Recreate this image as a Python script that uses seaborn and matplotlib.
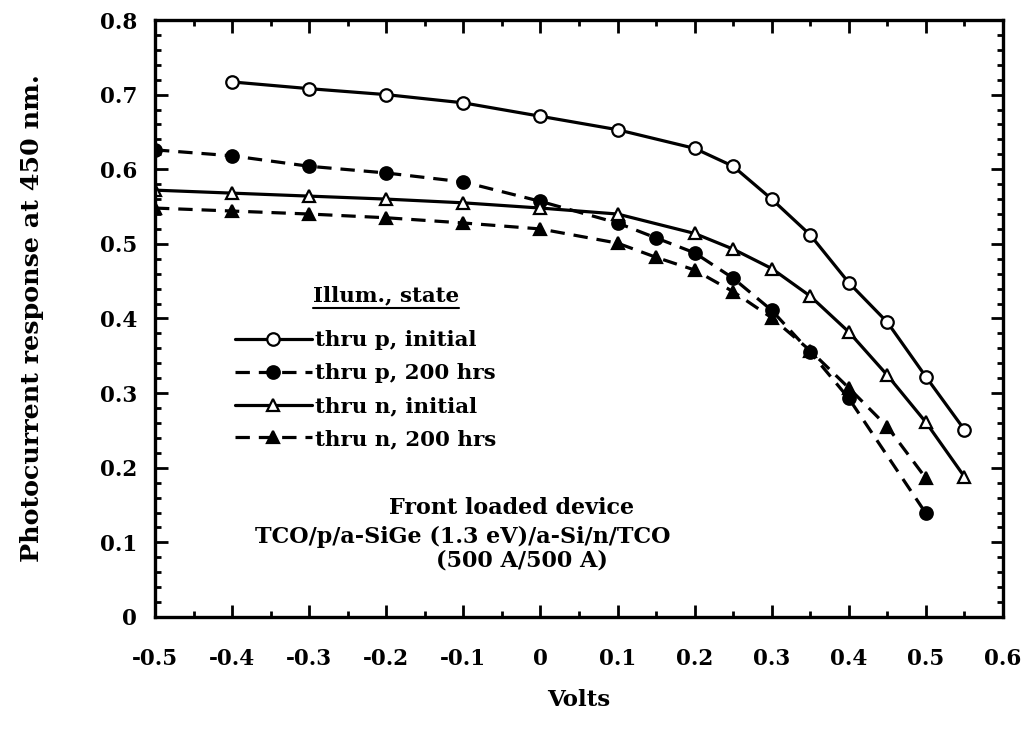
import matplotlib
matplotlib.use("Agg")
import matplotlib.pyplot as plt
from matplotlib.lines import Line2D
from matplotlib.ticker import MultipleLocator, FuncFormatter
import numpy as np
import pandas as pd
import seaborn as sns

# Bias voltage (V) for each series
volts_p_init = [-0.4, -0.3, -0.2, -0.1, 0.0, 0.1, 0.2, 0.25, 0.3, 0.35, 0.4, 0.45, 0.5, 0.55]
resp_p_init = [0.717, 0.708, 0.700, 0.689, 0.671, 0.653, 0.628, 0.604, 0.560, 0.512, 0.448, 0.395, 0.322, 0.251]

volts_p_200 = [-0.5, -0.4, -0.3, -0.2, -0.1, 0.0, 0.1, 0.15, 0.2, 0.25, 0.3, 0.35, 0.4, 0.5]
resp_p_200 = [0.626, 0.618, 0.604, 0.595, 0.583, 0.557, 0.528, 0.508, 0.488, 0.454, 0.411, 0.355, 0.293, 0.139]

volts_n_init = [-0.5, -0.4, -0.3, -0.2, -0.1, 0.0, 0.1, 0.2, 0.25, 0.3, 0.35, 0.4, 0.45, 0.5, 0.55]
resp_n_init = [0.572, 0.568, 0.564, 0.560, 0.555, 0.548, 0.540, 0.514, 0.493, 0.467, 0.430, 0.382, 0.324, 0.261, 0.188]

volts_n_200 = [-0.5, -0.4, -0.3, -0.2, -0.1, 0.0, 0.1, 0.15, 0.2, 0.25, 0.3, 0.35, 0.4, 0.45, 0.5]
resp_n_200 = [0.548, 0.544, 0.540, 0.535, 0.528, 0.520, 0.501, 0.482, 0.465, 0.436, 0.401, 0.357, 0.307, 0.255, 0.186]

series_labels = ["thru p, initial", "thru p, 200 hrs", "thru n, initial", "thru n, 200 hrs"]
legend_title = "Illum., state"
device_lines = ["Front loaded device", "TCO/p/a-SiGe (1.3 eV)/a-Si/n/TCO", "(500 A/500 A)"]

sns.set_style("ticks")
plt.rcParams["font.family"] = ["DejaVu Serif"]
plt.rcParams["font.weight"] = "bold"
for key in ["text.color", "axes.labelcolor", "xtick.color", "ytick.color", "axes.edgecolor"]:
    plt.rcParams[key] = "black"

fig = plt.figure(figsize=(10.31, 7.30), dpi=100)
ax = fig.add_axes([0.1503, 0.1548, 0.8225, 0.8178])

frames = []
for lab, xs, ys in zip(series_labels,
                       [volts_p_init, volts_p_200, volts_n_init, volts_n_200],
                       [resp_p_init, resp_p_200, resp_n_init, resp_n_200]):
    frames.append(pd.DataFrame({"Volts": xs, "Response": ys, "Series": lab}))
df = pd.concat(frames, ignore_index=True)

styles = {
    "thru p, initial": dict(marker="o", linestyle="-", mfc="white", ms=9),
    "thru p, 200 hrs": dict(marker="o", linestyle=(0, (4.5, 2.8)), mfc="black", ms=9),
    "thru n, initial": dict(marker="^", linestyle="-", mfc="white", ms=8),
    "thru n, 200 hrs": dict(marker="^", linestyle=(0, (4.5, 2.8)), mfc="black", ms=8),
}

for lab in series_labels:
    st = styles[lab]
    sub = df[df["Series"] == lab]
    sns.lineplot(data=sub, x="Volts", y="Response", ax=ax, sort=False,
                 color="black", lw=2.3, marker=st["marker"],
                 linestyle=st["linestyle"], markerfacecolor=st["mfc"],
                 markeredgecolor="black", markeredgewidth=1.6,
                 markersize=st["ms"], label=lab)

ax.set_xlim(-0.5, 0.6)
ax.set_ylim(0, 0.8)
ax.xaxis.set_major_locator(MultipleLocator(0.1))
ax.xaxis.set_minor_locator(MultipleLocator(0.05))
ax.yaxis.set_major_locator(MultipleLocator(0.1))
ax.yaxis.set_minor_locator(MultipleLocator(0.02))


def fmt(v, pos):
    if abs(v) < 1e-9:
        return "0"
    return f"{v:.1f}"


ax.xaxis.set_major_formatter(FuncFormatter(fmt))
ax.yaxis.set_major_formatter(FuncFormatter(fmt))

ax.tick_params(which="both", direction="in", top=True, right=True, color="black")
ax.tick_params(which="major", length=9, width=2.0)
ax.tick_params(which="minor", length=4.5, width=2.0)
ax.tick_params(axis="x", which="major", labelsize=15.5, pad=22)
ax.tick_params(axis="y", which="major", labelsize=15.5, pad=13)
for lbl in ax.get_xticklabels() + ax.get_yticklabels():
    lbl.set_fontweight("bold")
for sp in ax.spines.values():
    sp.set_linewidth(2.4)
    sp.set_color("black")

ax.set_xlabel("Volts", fontsize=16.5, fontweight="bold", labelpad=14)
ax.set_ylabel("Photocurrent response at 450 nm.", fontsize=18.3, fontweight="bold", labelpad=40)

leg = ax.legend(loc="upper left", bbox_to_anchor=(0.094, 0.48), frameon=False,
                fontsize=15.4, handlelength=3.6, handletextpad=0.15,
                labelspacing=0.6, borderpad=0, borderaxespad=0)
for t in leg.get_texts():
    t.set_fontweight("bold")

title = ax.text(0.272, 0.539, legend_title, transform=ax.transAxes, ha="center",
                va="center", fontsize=15.4, fontweight="bold")

ax.text(0.420, 0.183, device_lines[0], transform=ax.transAxes, ha="center",
        va="center", fontsize=16, fontweight="bold")
ax.text(0.363, 0.134, device_lines[1], transform=ax.transAxes, ha="center",
        va="center", fontsize=16, fontweight="bold")
ax.text(0.433, 0.095, device_lines[2], transform=ax.transAxes, ha="center",
        va="center", fontsize=16, fontweight="bold")

# underline the legend heading
fig.canvas.draw()
bb = title.get_window_extent().transformed(ax.transAxes.inverted())
ax.add_line(Line2D([bb.x0, bb.x1], [bb.y0 - 0.004, bb.y0 - 0.004],
                   transform=ax.transAxes, color="black", lw=1.5, clip_on=False))

fig.savefig("out.png", dpi=100)
